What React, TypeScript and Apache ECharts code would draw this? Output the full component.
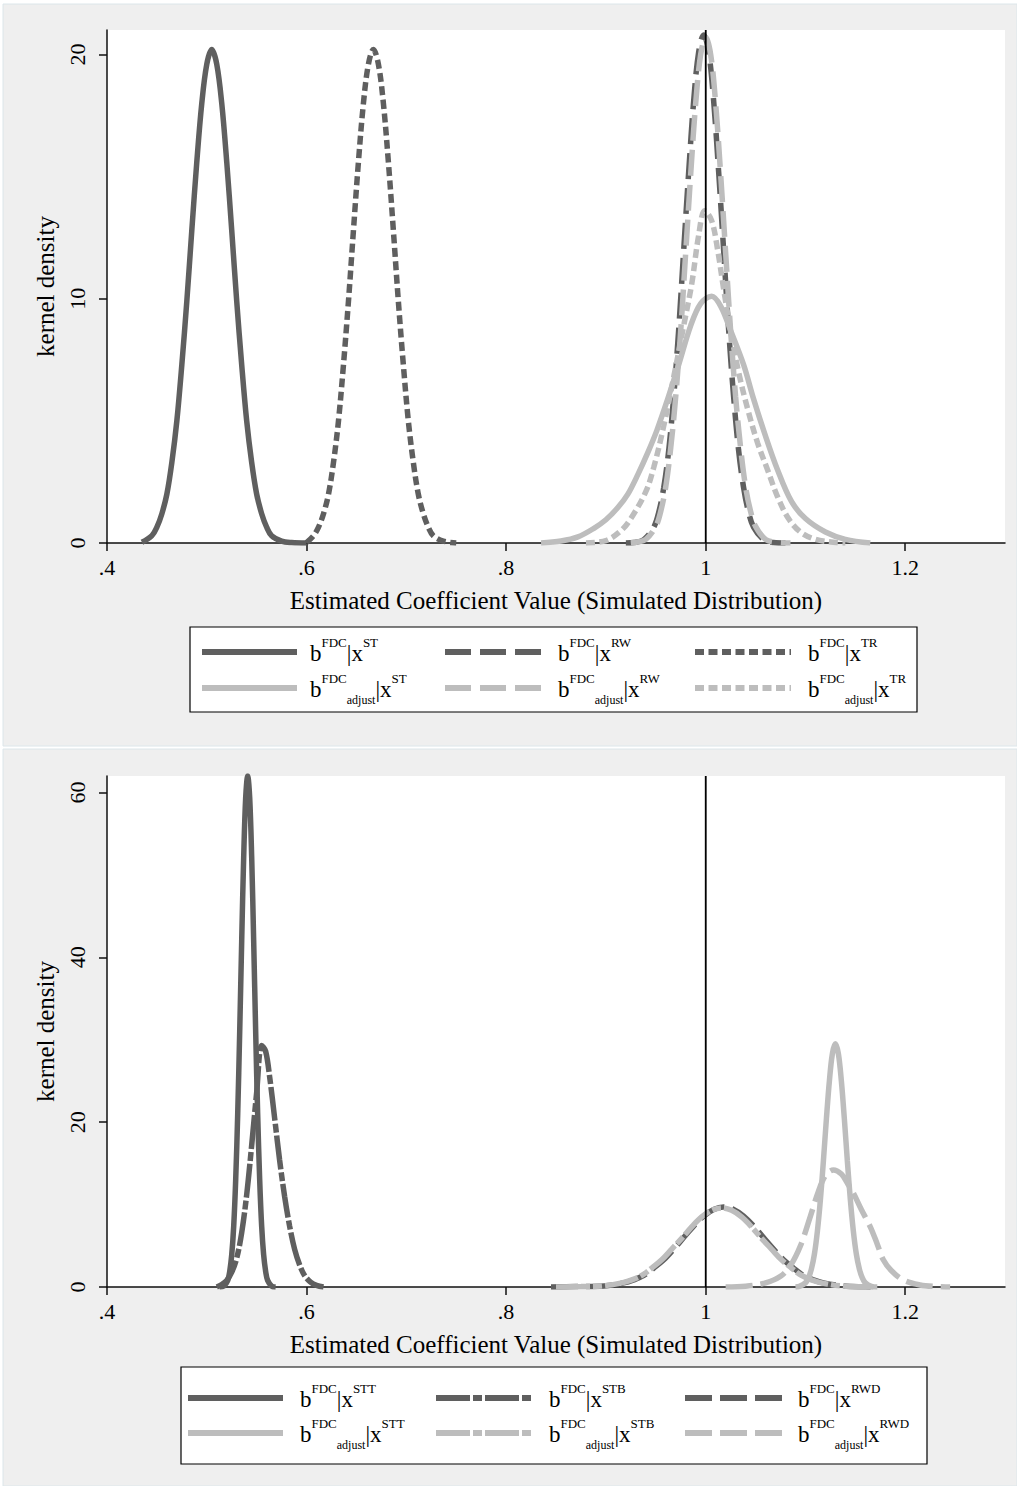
import React, { useEffect, useRef } from "react";
import * as echarts from "echarts";

const FONT = '"Liberation Serif", "Times New Roman", serif';
const DARK = "#5f5f5f";
const LIGHT = "#bdbdbd";

const xTicks = [0.4, 0.6, 0.8, 1, 1.2];
const xTickLabels = [".4", ".6", ".8", "1", "1.2"];
const topYTicks = [0, 10, 20];
const bottomYTicks = [0, 20, 40, 60];
const topYMax = 21;
const bottomYMax = 62;
const xLineValue = 1;
const xTitle = "Estimated Coefficient Value (Simulated Distribution)";
const yTitle = "kernel density";

const topSuffixes = ["ST", "RW", "TR"];
const bottomSuffixes = ["STT", "STB", "RWD"];

// ---- top panel curves ----
const topSTDark: [number, number][] = [
  [0.435, 0.03], [0.445, 0.3], [0.45, 0.65], [0.455, 1.2], [0.46, 2.0], [0.465, 3.3], [0.47, 5.0],
  [0.475, 7.3], [0.48, 9.9], [0.485, 12.8], [0.49, 15.6], [0.495, 18.0], [0.5, 19.6], [0.505, 20.2],
  [0.51, 19.6], [0.515, 18.0], [0.52, 15.6], [0.525, 12.8], [0.53, 9.9], [0.535, 7.3], [0.54, 5.0],
  [0.545, 3.3], [0.55, 2.0], [0.555, 1.2], [0.56, 0.65], [0.565, 0.3], [0.575, 0.08], [0.585, 0.02], [0.6, 0],
];
const topRWDark: [number, number][] = [
  [0.92, 0], [0.928, 0.02], [0.938, 0.14], [0.948, 0.65], [0.953, 1.26], [0.958, 2.27], [0.963, 3.8],
  [0.968, 6.0], [0.973, 8.75], [0.978, 12.0], [0.983, 15.2], [0.988, 18.1], [0.993, 20.1], [0.998, 20.8],
  [1.003, 20.1], [1.008, 18.1], [1.013, 15.2], [1.018, 12.0], [1.023, 8.75], [1.028, 6.0], [1.033, 3.8],
  [1.038, 2.27], [1.043, 1.26], [1.048, 0.65], [1.058, 0.14], [1.068, 0.02], [1.08, 0],
];
const topTRDark: [number, number][] = [
  [0.6, 0.02], [0.607, 0.3], [0.612, 0.65], [0.617, 1.2], [0.622, 2.0], [0.627, 3.3], [0.632, 5.0],
  [0.637, 7.3], [0.642, 9.9], [0.647, 12.8], [0.652, 15.6], [0.657, 18.0], [0.662, 19.6], [0.667, 20.2],
  [0.672, 19.6], [0.677, 18.0], [0.682, 15.6], [0.687, 12.8], [0.692, 9.9], [0.697, 7.3], [0.702, 5.0],
  [0.707, 3.3], [0.712, 2.0], [0.717, 1.2], [0.722, 0.65], [0.727, 0.3], [0.737, 0.08], [0.75, 0],
];
const topSTLight: [number, number][] = [
  [0.835, 0], [0.855, 0.08], [0.872, 0.25], [0.888, 0.6], [0.9, 0.95], [0.912, 1.45], [0.922, 2.0],
  [0.932, 2.8], [0.942, 3.7], [0.951, 4.6], [0.962, 5.9], [0.973, 7.3], [0.985, 8.9], [0.995, 9.8],
  [1.006, 10.1], [1.015, 9.7], [1.025, 8.7], [1.038, 7.3], [1.048, 5.9], [1.059, 4.5], [1.072, 3.0],
  [1.086, 1.7], [1.1, 1.0], [1.12, 0.45], [1.14, 0.15], [1.165, 0],
];
const topRWLight: [number, number][] = [
  [0.925, 0], [0.93, 0.03], [0.94, 0.15], [0.95, 0.68], [0.955, 1.3], [0.96, 2.3], [0.965, 3.9],
  [0.97, 6.0], [0.975, 8.7], [0.98, 11.9], [0.985, 15.1], [0.99, 18.0], [0.995, 20.0], [1.0, 20.7],
  [1.005, 20.0], [1.01, 18.0], [1.015, 15.1], [1.02, 11.9], [1.025, 8.7], [1.03, 6.0], [1.035, 3.9],
  [1.04, 2.3], [1.045, 1.3], [1.05, 0.68], [1.06, 0.15], [1.07, 0.03], [1.085, 0],
];
const topTRLight: [number, number][] = [
  [0.88, 0], [0.9, 0.1], [0.915, 0.5], [0.925, 1.0], [0.94, 2.1], [0.948, 3.1], [0.958, 4.8],
  [0.968, 6.8], [0.978, 8.9], [0.986, 10.6], [0.993, 12.6], [0.999, 13.6], [1.006, 13.2], [1.012, 12.0],
  [1.018, 10.4], [1.025, 8.7], [1.033, 7.0], [1.042, 5.5], [1.052, 4.1], [1.062, 3.0], [1.072, 1.9],
  [1.083, 1.0], [1.095, 0.45], [1.11, 0.15], [1.13, 0.02], [1.14, 0],
];

// ---- bottom panel curves ----
const botSTTDark: [number, number][] = [
  [0.513, 0], [0.517, 0.1], [0.521, 0.8], [0.523, 1.9], [0.525, 3.9], [0.527, 7.4], [0.529, 13.1],
  [0.531, 21.0], [0.533, 31.0], [0.535, 42.0], [0.537, 52.2], [0.539, 59.4], [0.541, 62.0], [0.543, 59.4],
  [0.545, 52.2], [0.547, 42.0], [0.549, 31.0], [0.551, 21.0], [0.553, 13.1], [0.555, 7.4], [0.557, 3.9],
  [0.559, 1.9], [0.561, 0.8], [0.565, 0.12], [0.569, 0],
];
const botSTBDark: [number, number][] = [
  [0.51, 0], [0.515, 0.3], [0.52, 0.8], [0.525, 1.8], [0.53, 3.5], [0.535, 6.6], [0.54, 11.2],
  [0.545, 17.2], [0.55, 23.6], [0.555, 29.3], [0.559, 28.6], [0.563, 25.5], [0.568, 20.5], [0.573, 15.4],
  [0.578, 11.0], [0.583, 7.4], [0.588, 4.6], [0.593, 2.7], [0.598, 1.4], [0.604, 0.6], [0.61, 0.2], [0.617, 0],
];
const botRWDDark: [number, number][] = [
  [0.845, 0], [0.87, 0.05], [0.898, 0.13], [0.918, 0.5], [0.928, 0.87], [0.938, 1.4], [0.948, 2.3],
  [0.958, 3.3], [0.968, 4.6], [0.978, 6.0], [0.988, 7.4], [0.998, 8.6], [1.008, 9.4], [1.018, 9.7],
  [1.028, 9.4], [1.038, 8.6], [1.048, 7.4], [1.058, 6.0], [1.068, 4.6], [1.078, 3.3], [1.088, 2.3],
  [1.098, 1.4], [1.108, 0.87], [1.118, 0.5], [1.138, 0.13], [1.16, 0.02], [1.17, 0],
];
const botSTTLight: [number, number][] = [
  [1.09, 0], [1.094, 0.08], [1.1, 0.5], [1.103, 1.1], [1.106, 2.2], [1.109, 4.0], [1.112, 6.8],
  [1.115, 10.6], [1.118, 15.3], [1.121, 20.4], [1.124, 25.0], [1.127, 28.3], [1.13, 29.5], [1.133, 28.3],
  [1.136, 25.0], [1.139, 20.4], [1.142, 15.3], [1.145, 10.6], [1.148, 6.8], [1.151, 4.0], [1.154, 2.2],
  [1.157, 1.1], [1.16, 0.5], [1.166, 0.08], [1.172, 0],
];
const botSTBLight: [number, number][] = [
  [0.85, 0], [0.875, 0.05], [0.896, 0.13], [0.916, 0.5], [0.926, 0.86], [0.936, 1.4], [0.946, 2.3],
  [0.956, 3.3], [0.966, 4.6], [0.976, 5.9], [0.986, 7.3], [0.996, 8.5], [1.006, 9.3], [1.016, 9.6],
  [1.026, 9.3], [1.036, 8.5], [1.046, 7.3], [1.056, 5.9], [1.066, 4.6], [1.076, 3.3], [1.086, 2.3],
  [1.096, 1.4], [1.106, 0.86], [1.116, 0.5], [1.136, 0.13], [1.158, 0.02], [1.168, 0],
];
const botRWDLight: [number, number][] = [
  [1.02, 0], [1.04, 0.1], [1.06, 0.5], [1.075, 1.3], [1.085, 2.6], [1.095, 5.0], [1.105, 8.6],
  [1.113, 11.6], [1.12, 13.5], [1.128, 14.2], [1.136, 13.7], [1.142, 12.6], [1.148, 11.4], [1.156, 9.4],
  [1.165, 7.3], [1.172, 5.2], [1.178, 3.3], [1.186, 2.0], [1.198, 0.85], [1.215, 0.25], [1.23, 0.06], [1.245, 0],
];

const SOLID = "solid";
const DASH = [26, 9];
const SHORTDASH = [9, 4.5];
const DASHDOT = [34, 3, 9, 3];
const LONGDASH = [27, 8];

const topSeries = [
  { data: topSTDark, color: DARK, dash: SOLID },
  { data: topRWDark, color: DARK, dash: DASH },
  { data: topTRDark, color: DARK, dash: SHORTDASH },
  { data: topSTLight, color: LIGHT, dash: SOLID },
  { data: topRWLight, color: LIGHT, dash: DASH },
  { data: topTRLight, color: LIGHT, dash: SHORTDASH },
];
const bottomSeries = [
  { data: botSTTDark, color: DARK, dash: SOLID },
  { data: botSTBDark, color: DARK, dash: DASHDOT },
  { data: botRWDDark, color: DARK, dash: LONGDASH },
  { data: botSTTLight, color: LIGHT, dash: SOLID },
  { data: botSTBLight, color: LIGHT, dash: DASHDOT },
  { data: botRWDLight, color: LIGHT, dash: LONGDASH },
];

const fmtX = (v: number) => {
  const i = xTicks.findIndex((t) => Math.abs(t - v) < 1e-6);
  return i >= 0 ? xTickLabels[i] : "";
};

const richStyles = {
  b: { fontSize: 23, lineHeight: 34, verticalAlign: "middle", fontFamily: FONT, color: "#000" },
  sup: { fontSize: 13, lineHeight: 20, verticalAlign: "top", fontFamily: FONT, color: "#000" },
  sub: { fontSize: 12, lineHeight: 15, verticalAlign: "bottom", fontFamily: FONT, color: "#000" },
};

const legendText = (suffix: string, adjust: boolean) =>
  adjust
    ? `{b|b}{sup|FDC}{sub|adjust}{b||x}{sup|${suffix}}`
    : `{b|b}{sup|FDC}{b||x}{sup|${suffix}}`;

function buildLegend(
  box: { x: number; y: number; w: number; h: number },
  rows: number[],
  cols: { x1: number; x2: number; tx: number }[],
  suffixes: string[],
  dashes: (string | number[])[]
) {
  const els: any[] = [
    {
      type: "rect",
      shape: { x: box.x, y: box.y, width: box.w, height: box.h },
      style: { fill: "#fff", stroke: "#000", lineWidth: 1.2 },
      z: 10,
    },
  ];
  rows.forEach((ry, r) => {
    cols.forEach((c, ci) => {
      const dash = dashes[ci];
      const lineStyle: any = { stroke: r === 0 ? DARK : LIGHT, lineWidth: 6 };
      if (dash !== "solid") lineStyle.lineDash = dash;
      els.push({
        type: "line",
        shape: { x1: c.x1, y1: ry, x2: c.x2, y2: ry },
        style: lineStyle,
        z: 11,
      });
      els.push({
        type: "text",
        x: c.tx,
        y: ry + 1,
        style: {
          text: legendText(suffixes[ci], r === 1),
          rich: richStyles,
          fontFamily: FONT,
          align: "left",
          verticalAlign: "middle",
        },
        z: 11,
      });
    });
  });
  return els;
}

export default function App() {
  const ref = useRef<HTMLDivElement>(null);

  useEffect(() => {
    if (!ref.current) return;
    const chart = echarts.init(ref.current, null, { renderer: "svg" });

    const axisLineStyle = { color: "#111", width: 1.5 };
    const makeX = (gridIndex: number) => ({
      gridIndex,
      type: "value",
      min: 0.4,
      max: 1.3,
      interval: 0.2,
      axisLine: { show: true, onZero: false, lineStyle: axisLineStyle },
      axisTick: { show: true, length: 8, customValues: xTicks, lineStyle: axisLineStyle },
      axisLabel: {
        customValues: xTicks,
        formatter: fmtX,
        fontSize: 22,
        fontFamily: FONT,
        color: "#000",
        margin: 13,
      },
      splitLine: { show: false },
      name: xTitle,
      nameLocation: "middle",
      nameGap: 45,
      nameTextStyle: { fontSize: 25, fontFamily: FONT, color: "#000" },
    });
    const makeY = (gridIndex: number, max: number, ticks: number[], interval: number) => ({
      gridIndex,
      type: "value",
      min: 0,
      max,
      interval,
      axisLine: { show: true, onZero: false, lineStyle: axisLineStyle },
      axisTick: { show: true, length: 8, customValues: ticks, lineStyle: axisLineStyle },
      axisLabel: {
        customValues: ticks,
        rotate: 90,
        fontSize: 22,
        fontFamily: FONT,
        color: "#000",
        margin: 19,
      },
      splitLine: { show: false },
      name: yTitle,
      nameLocation: "middle",
      nameGap: 48,
      nameTextStyle: { fontSize: 25, fontFamily: FONT, color: "#000" },
    });

    const mkSeries = (defs: any[], gridIndex: number) =>
      defs.map((d) => ({
        type: "line",
        xAxisIndex: gridIndex,
        yAxisIndex: gridIndex,
        data: d.data,
        showSymbol: false,
        symbol: "none",
        smooth: 0.35,
        lineStyle: { color: d.color, width: 5.5, type: d.dash },
        z: 2,
      }));

    const refLine = (gridIndex: number, yMax: number) => ({
      type: "line",
      xAxisIndex: gridIndex,
      yAxisIndex: gridIndex,
      data: [
        [xLineValue, 0],
        [xLineValue, yMax],
      ],
      showSymbol: false,
      symbol: "none",
      lineStyle: { color: "#000", width: 1.5, type: "solid" },
      z: 3,
    });

    const graphics: any[] = [
      {
        type: "rect",
        shape: { x: 3, y: 4, width: 1014, height: 742 },
        style: { fill: "#efefef", stroke: "#dce6ea", lineWidth: 1 },
        z: -20,
      },
      {
        type: "rect",
        shape: { x: 3, y: 749, width: 1014, height: 737 },
        style: { fill: "#efefef", stroke: "#dce6ea", lineWidth: 1 },
        z: -20,
      },
      {
        type: "rect",
        shape: { x: 107, y: 30, width: 898, height: 513 },
        style: { fill: "#fff" },
        z: -10,
      },
      {
        type: "rect",
        shape: { x: 107, y: 776, width: 898, height: 511 },
        style: { fill: "#fff" },
        z: -10,
      },
      ...buildLegend(
        { x: 190, y: 627, w: 727, h: 85 },
        [652, 688],
        [
          { x1: 202, x2: 297, tx: 310 },
          { x1: 445, x2: 541, tx: 558 },
          { x1: 695, x2: 791, tx: 808 },
        ],
        topSuffixes,
        [SOLID, DASH, SHORTDASH]
      ),
      ...buildLegend(
        { x: 181, y: 1367, w: 746, h: 97 },
        [1398, 1433],
        [
          { x1: 188, x2: 283, tx: 300 },
          { x1: 436, x2: 533, tx: 549 },
          { x1: 685, x2: 783, tx: 798 },
        ],
        bottomSuffixes,
        [SOLID, DASHDOT, LONGDASH]
      ),
    ];

    chart.setOption({
      animation: false,
      backgroundColor: "#fff",
      textStyle: { fontFamily: FONT },
      grid: [
        { left: 107, top: 30, width: 898, height: 513, containLabel: false },
        { left: 107, top: 776, width: 898, height: 511, containLabel: false },
      ],
      xAxis: [makeX(0), makeX(1)],
      yAxis: [makeY(0, topYMax, topYTicks, 10), makeY(1, bottomYMax, bottomYTicks, 20)],
      graphic: { elements: graphics },
      series: [
        ...mkSeries(topSeries, 0),
        refLine(0, topYMax),
        ...mkSeries(bottomSeries, 1),
        refLine(1, bottomYMax),
      ],
    });

    // reference line x = 1, placed through the chart's own scales
    const xLineGraphic = (gridIndex: number, yMax: number) => {
      const p0 = chart.convertToPixel({ gridIndex } as any, [xLineValue, 0]) as number[];
      const p1 = chart.convertToPixel({ gridIndex } as any, [xLineValue, yMax]) as number[];
      return {
        type: "line",
        shape: { x1: p0[0], y1: p0[1], x2: p1[0], y2: p1[1] },
        style: { stroke: "#000", lineWidth: 1.5 },
        z: 5,
      };
    };
    chart.setOption({
      graphic: { elements: [...graphics, xLineGraphic(0, topYMax), xLineGraphic(1, bottomYMax)] },
    });

    return () => chart.dispose();
  }, []);

  return (
    <div
      ref={ref}
      style={{ position: "absolute", left: 0, top: 0, width: 1017, height: 1486, background: "#fff" }}
    />
  );
}
